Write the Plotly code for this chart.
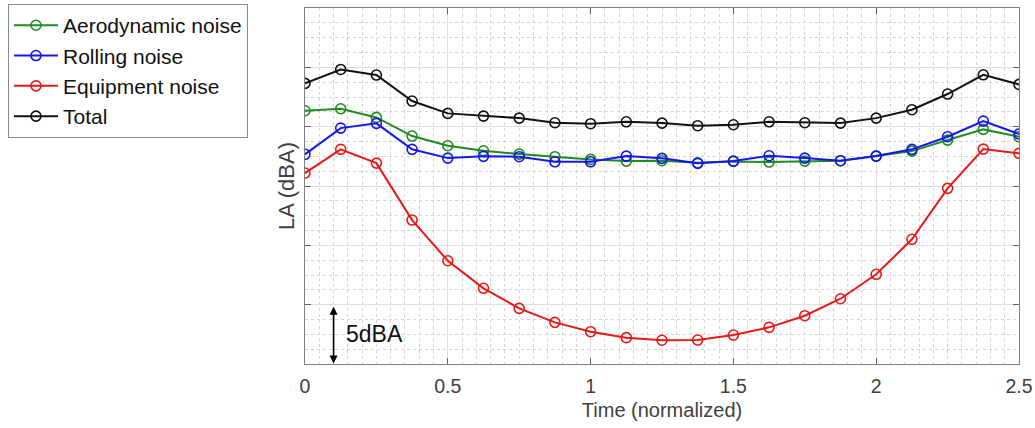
import plotly.graph_objects as go

time = [0, 0.125, 0.25, 0.375, 0.5, 0.625, 0.75, 0.875, 1.0, 1.125, 1.25,
        1.375, 1.5, 1.625, 1.75, 1.875, 2.0, 2.125, 2.25, 2.375, 2.5]

aero = [21.34, 21.51, 20.78, 19.21, 18.39, 17.97, 17.69, 17.47, 17.24, 17.10, 17.13,
        16.96, 17.07, 17.02, 17.10, 17.13, 17.52, 17.94, 18.87, 19.77, 19.15]
rolling = [17.67, 19.88, 20.28, 18.09, 17.35, 17.50, 17.47, 17.04, 17.04, 17.52, 17.33,
           16.91, 17.10, 17.55, 17.35, 17.13, 17.52, 18.09, 19.15, 20.47, 19.38]
equipment = [16.09, 18.09, 16.93, 12.13, 8.70, 6.38, 4.69, 3.51, 2.72, 2.22, 2.00,
             2.02, 2.44, 3.09, 4.07, 5.50, 7.56, 10.51, 14.80, 18.11, 17.75]
total = [23.65, 24.82, 24.35, 22.16, 21.12, 20.89, 20.72, 20.33, 20.25, 20.41, 20.30,
         20.08, 20.16, 20.41, 20.33, 20.30, 20.72, 21.43, 22.75, 24.37, 23.56]

names = ["Aerodynamic noise", "Rolling noise", "Equipment noise", "Total"]
colors = ["#1e8c1e", "#1515f0", "#e81818", "#111111"]
series = [aero, rolling, equipment, total]

FONT = "Liberation Sans, Arial, sans-serif"

fig = go.Figure()
for n, c, s in zip(names, colors, series):
    fig.add_trace(go.Scatter(
        x=time, y=s, name=n, mode="lines+markers",
        line=dict(color=c, width=2),
        marker=dict(symbol="circle-open", size=10, color=c, line=dict(width=1.6, color=c)),
    ))

# 5 dBA scale arrow
fig.add_annotation(x=0.1, y=0.05, ax=0.1, ay=4.95, xref="x", yref="y", axref="x", ayref="y",
                   showarrow=True, arrowhead=2, arrowside="end+start", arrowwidth=1.6,
                   arrowsize=1, arrowcolor="#000000", text="")
fig.add_annotation(x=0.135, y=2.5, xref="x", yref="y", text="5dBA", showarrow=False,
                   xanchor="left", yanchor="middle", font=dict(size=23, color="#111111", family=FONT))

axis_common = dict(
    showline=True, linecolor="#808080", linewidth=1.2, mirror="ticks",
    ticks="inside", ticklen=6, tickcolor="#606060",
    gridcolor="#dedede", gridwidth=1, zeroline=False, automargin=False,
)

fig.update_xaxes(
    range=[0, 2.5], tickvals=[0, 0.5, 1, 1.5, 2, 2.5],
    ticktext=["0", "0.5", "1", "1.5", "2", "2.5"],
    tickfont=dict(size=19.5, color="#404040", family=FONT),
    ticklabelstandoff=4,
    title=dict(text="Time (normalized)", font=dict(size=20, color="#404040", family=FONT), standoff=7),
    minor=dict(dtick=0.05, showgrid=True, griddash="dot", gridcolor="#d4d4d4", gridwidth=1),
    **axis_common,
)
fig.update_yaxes(
    range=[0, 30], dtick=5, tick0=0, showticklabels=False,
    title=dict(text="LA (dBA)", font=dict(size=22, color="#404040", family=FONT), standoff=3),
    minor=dict(dtick=1.25, showgrid=True, griddash="dot", gridcolor="#d4d4d4", gridwidth=1),
    **axis_common,
)

fig.update_layout(
    width=1035, height=428,
    margin=dict(l=305, r=16, t=8, b=64, autoexpand=False),
    plot_bgcolor="white", paper_bgcolor="white",
    font=dict(family=FONT),
    showlegend=True,
    legend=dict(
        x=-0.416, y=1.011, xanchor="left", yanchor="top",
        bordercolor="#8a8a8a", borderwidth=1, bgcolor="white",
        font=dict(size=21, color="#111111", family=FONT),
        itemwidth=44, tracegroupgap=0,
    ),
)

fig.write_html("out.html")
